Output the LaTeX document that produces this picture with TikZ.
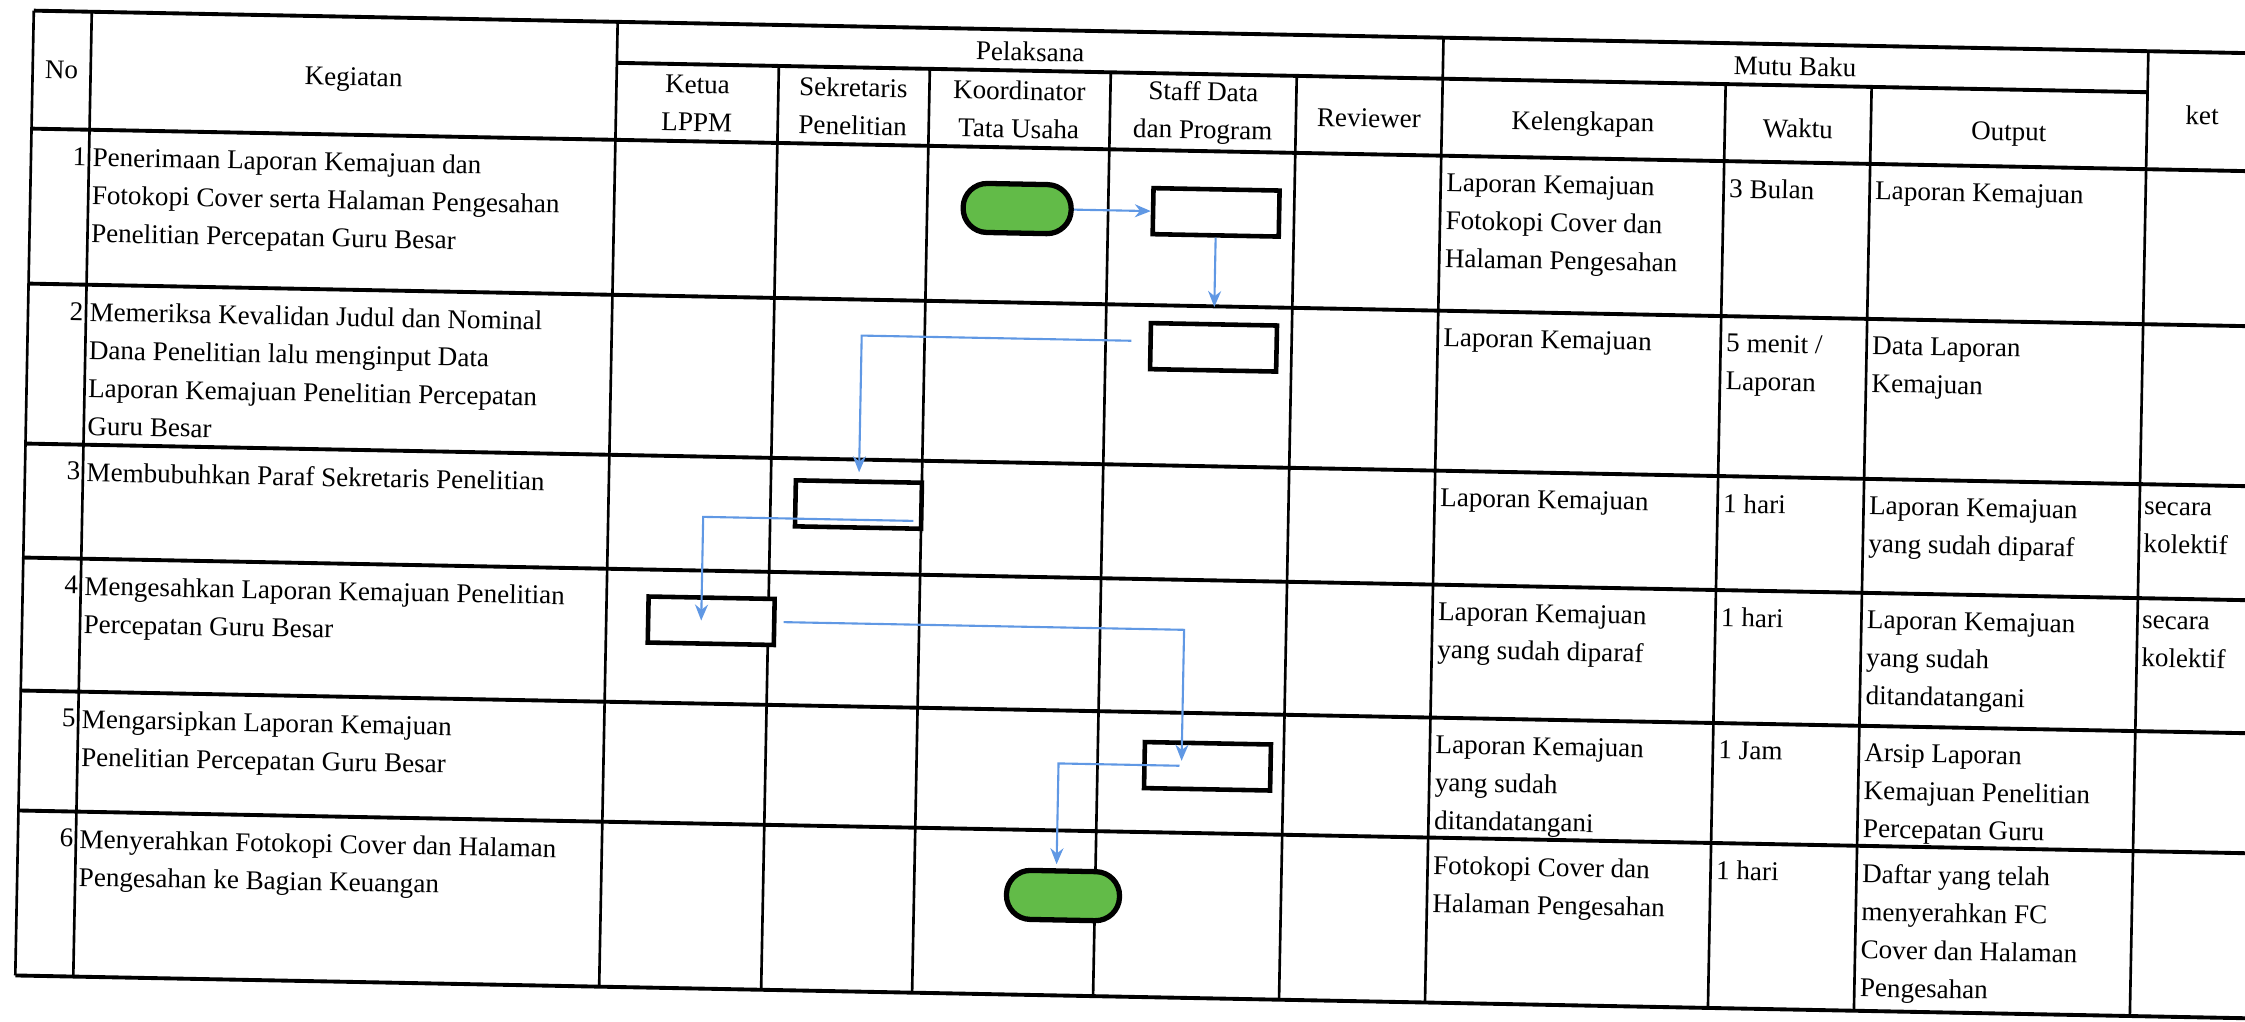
\documentclass[tikz,border=0pt]{standalone}
\usepackage{fontspec}
\setmainfont{Liberation Serif}
\usetikzlibrary{arrows.meta,positioning,calc}
\definecolor{AlurBiru}{RGB}{96,152,228}
\definecolor{TerminalHijau}{RGB}{98,187,72}
\tikzset{
  garistabel/.style={line width=0.75pt, black},
  garisbaris/.style={line width=1.1pt, black},
  teks/.style={anchor=north west, align=left, inner sep=0pt, font=\fontsize{7.7}{10.8}\selectfont},
  nomor/.style={anchor=north east, inner sep=0pt, font=\fontsize{7.7}{10.8}\selectfont},
  kepala/.style={align=center, inner sep=0pt, font=\fontsize{7.7}{10.8}\selectfont},
  proses/.style={draw=black, line width=1.3pt, fill=white, minimum width=1.26cm,
                minimum height=0.46cm, inner sep=0pt},
  terminal/.style={draw=black, line width=1.5pt, fill=TerminalHijau, rounded corners=0.24cm,
                minimum width=1.08cm, minimum height=0.49cm, inner sep=0pt},
  alur/.style={-{Stealth[length=1.6mm,width=1.3mm]}, line width=0.6pt, AlurBiru},
}
\begin{document}
\begin{tikzpicture}[x=0.01cm, y=-0.01cm]
  \useasboundingbox (0,0) rectangle (2245,1021);
  \clip (0,0) rectangle (2245,1021);
  \begin{scope}[overlay, transform canvas={rotate=-1.1}]
  \begin{scope}[shift={(34,10)}]

  % --- garis tabel -----------------------------------------------------------
  \draw[garisbaris] (0,0) -- (2260,0);
  \draw[garisbaris] (584,41) -- (2115,41);
  \foreach \y in {118,273,433,547,680,800,965}
    \draw[garisbaris] (0,\y) -- (2260,\y);
  \foreach \x in {0,58,584,1410,2115}
    \draw[garistabel] (\x,0) -- (\x,965);
  \foreach \x in {746,897,1078,1264,1693,1839}
    \draw[garistabel] (\x,41) -- (\x,965);

  % --- kepala tabel ----------------------------------------------------------
  \node[kepala] (hno)    at (29,59)     {No};
  \node[kepala] (hkeg)   at (321,63)    {Kegiatan};
  \node[kepala] (hpel)   at (997,22)    {Pelaksana};
  \node[kepala] (hketua) at (665,80)    {Ketua\\LPPM};
  \node[kepala] (hsekr)  at (821,80)    {Sekretaris\\Penelitian};
  \node[kepala] (hkoord) at (987,80)    {Koordinator\\Tata Usaha};
  \node[kepala] (hstaff) at (1171,80)   {Staff Data\\dan Program};
  \node[kepala] (hrev)   at (1337,82)   {Reviewer};
  \node[kepala] (hmutu)  at (1762,22)   {Mutu Baku};
  \node[kepala] (hkel)   at (1551,84)   {Kelengkapan};
  \node[kepala] (hwkt)   at (1766,84)   {Waktu};
  \node[kepala] (hout)   at (1977,86)   {Output};
  \node[kepala] (hket)   at (2170,63)   {ket};

  % --- baris 1 ---------------------------------------------------------------
  \node[nomor] (no1)  at (56,135)   {1};
  \node[teks]  (keg1) at (61,135)   {Penerimaan Laporan Kemajuan dan\\Fotokopi Cover serta Halaman Pengesahan\\Penelitian Percepatan Guru Besar};
  \node[teks]  (kel1) at (1415,135) {Laporan Kemajuan\\Fotokopi Cover dan\\Halaman Pengesahan};
  \node[teks]  (wkt1) at (1698,135) {3 Bulan};
  \node[teks]  (out1) at (1844,135) {Laporan Kemajuan};

  % --- baris 2 ---------------------------------------------------------------
  \node[nomor] (no2)  at (56,290)   {2};
  \node[teks]  (keg2) at (61,290)   {Memeriksa Kevalidan Judul dan Nominal\\Dana Penelitian lalu menginput Data\\Laporan Kemajuan Penelitian Percepatan\\Guru Besar};
  \node[teks]  (kel2) at (1415,290) {Laporan Kemajuan};
  \node[teks]  (wkt2) at (1698,290) {5 menit /\\Laporan};
  \node[teks]  (out2) at (1844,290) {Data Laporan\\Kemajuan};

  % --- baris 3 ---------------------------------------------------------------
  \node[nomor] (no3)  at (56,450)   {3};
  \node[teks]  (keg3) at (61,450)   {Membubuhkan Paraf Sekretaris Penelitian};
  \node[teks]  (kel3) at (1415,450) {Laporan Kemajuan};
  \node[teks]  (wkt3) at (1698,450) {1 hari};
  \node[teks]  (out3) at (1844,450) {Laporan Kemajuan\\yang sudah diparaf};
  \node[teks]  (ket3) at (2119,450) {secara\\kolektif};

  % --- baris 4 ---------------------------------------------------------------
  \node[nomor] (no4)  at (56,564)   {4};
  \node[teks]  (keg4) at (61,564)   {Mengesahkan Laporan Kemajuan Penelitian\\Percepatan Guru Besar};
  \node[teks]  (kel4) at (1415,564) {Laporan Kemajuan\\yang sudah diparaf};
  \node[teks]  (wkt4) at (1698,564) {1 hari};
  \node[teks]  (out4) at (1844,564) {Laporan Kemajuan\\yang sudah\\ditandatangani};
  \node[teks]  (ket4) at (2119,564) {secara\\kolektif};

  % --- baris 5 ---------------------------------------------------------------
  \node[nomor] (no5)  at (56,697)   {5};
  \node[teks]  (keg5) at (61,697)   {Mengarsipkan Laporan Kemajuan\\Penelitian Percepatan Guru Besar};
  \node[teks]  (kel5) at (1415,697) {Laporan Kemajuan\\yang sudah\\ditandatangani};
  \node[teks]  (wkt5) at (1698,697) {1 Jam};
  \node[teks]  (out5) at (1844,697) {Arsip Laporan\\Kemajuan Penelitian\\Percepatan Guru};

  % --- baris 6 ---------------------------------------------------------------
  \node[nomor] (no6)  at (56,817)   {6};
  \node[teks]  (keg6) at (61,817)   {Menyerahkan Fotokopi Cover dan Halaman\\Pengesahan ke Bagian Keuangan};
  \node[teks]  (kel6) at (1415,817) {Fotokopi Cover dan\\Halaman Pengesahan};
  \node[teks]  (wkt6) at (1698,817) {1 hari};
  \node[teks]  (out6) at (1844,817) {Daftar yang telah\\menyerahkan FC\\Cover dan Halaman\\Pengesahan};

  % --- bagan alur ------------------------------------------------------------
  \node[terminal] (mulai)   at (987,179)  {};
  \node[proses]   (terima)  at (1186,179) {};
  \node[proses]   (periksa) at (1186,314) {};
  \node[proses]   (paraf)   at (834,478)  {};
  \node[proses]   (sahkan)  at (689,597)  {};
  \node[proses]   (arsip)   at (1188,733) {};
  \node[terminal, minimum width=1.13cm] (serah) at (1046,865) {};

  \draw[alur] (mulai) -- (terima);
  \draw[alur, shorten >=0.15cm] (terima) -- (periksa);
  \draw[alur, shorten >=0.07cm] ([xshift=-0.17cm,yshift=0.05cm]periksa.west) -| (paraf.north);
  \draw[alur] ([xshift=-0.1cm,yshift=0.1cm]paraf.south east) -| ([xshift=-0.1cm]sahkan.center);
  \draw[alur] ([xshift=0.07cm]sahkan.east) -| ([xshift=-0.26cm,yshift=0.05cm]arsip.center);
  \draw[alur, shorten >=0.04cm] ([xshift=-0.28cm]arsip.center) -| ([xshift=-0.07cm]serah.north);

  \end{scope}
  \end{scope}
\end{tikzpicture}
\end{document}
